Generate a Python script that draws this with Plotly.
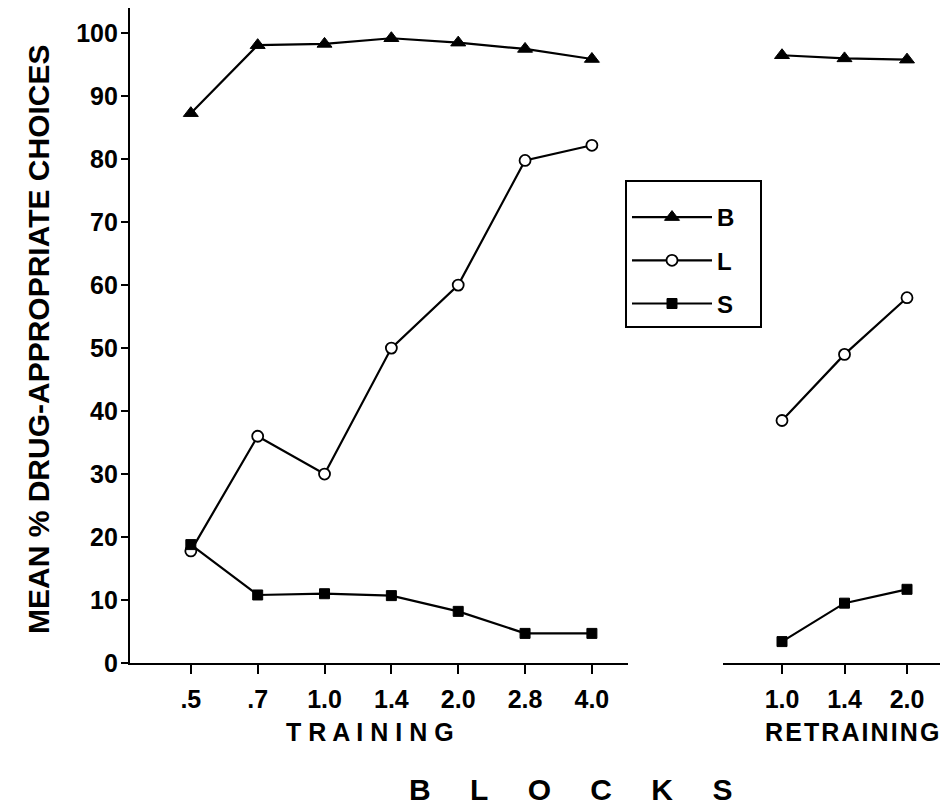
import plotly.graph_objects as go

# ---- data ----
train_blocks = [".5", ".7", "1.0", "1.4", "2.0", "2.8", "4.0"]
retrain_blocks = ["1.0", "1.4", "2.0"]

B_train = [87.3, 98.1, 98.3, 99.2, 98.5, 97.5, 95.9]
L_train = [17.8, 36.0, 30.0, 50.0, 60.0, 79.8, 82.2]
S_train = [18.8, 10.8, 11.0, 10.7, 8.2, 4.7, 4.7]

B_retrain = [96.5, 96.0, 95.8]
L_retrain = [38.5, 49.0, 58.0]
S_retrain = [3.4, 9.5, 11.7]

y_ticks = [0, 10, 20, 30, 40, 50, 60, 70, 80, 90, 100]

# page body has an 8px margin, so the figure is drawn 8px in and down
OFF = 8
W, H = 940, 801
FONT = "Liberation Sans"


def px(x):
    return (x - OFF) / W


def py(y):
    # screen y -> paper y (plot area spans screen 8..663)
    return (663 - y) / 655


series = [
    ("B", B_train, B_retrain, dict(symbol="triangle-up", size=13, color="black",
                                  line=dict(color="black", width=1))),
    ("L", L_train, L_retrain, dict(symbol="circle", size=11, color="white",
                                  line=dict(color="black", width=1.8))),
    ("S", S_train, S_retrain, dict(symbol="square", size=10, color="black",
                                  line=dict(color="black", width=1))),
]

fig = go.Figure()
for name, tr, rt, mk in series:
    fig.add_trace(go.Scatter(
        x=train_blocks, y=tr, mode="lines+markers",
        name=name + "\u00a0\u00a0\u00a0",
        legendgroup=name, line=dict(color="black", width=2.2), marker=mk,
        xaxis="x", yaxis="y"))
    fig.add_trace(go.Scatter(
        x=retrain_blocks, y=rt, mode="lines+markers", name=name,
        legendgroup=name, showlegend=False,
        line=dict(color="black", width=2.2), marker=mk,
        xaxis="x2", yaxis="y"))

tickfont = dict(family=FONT, size=25, color="black", weight="bold")

xcommon = dict(
    type="category", showline=True, linecolor="black", linewidth=2.2,
    ticks="outside", ticklen=9, tickwidth=2.2, tickcolor="black",
    showgrid=False, zeroline=False, tickfont=tickfont, anchor="y",
    ticklabelstandoff=4,
)

fig.update_layout(
    width=W, height=H,
    margin=dict(l=0, r=0, t=0, b=H - 655),
    paper_bgcolor="white", plot_bgcolor="white",
    font=dict(family=FONT, color="black"),
    xaxis=dict(domain=[px(130), px(628)], categoryorder="array",
               categoryarray=train_blocks, range=[-0.91, 6.54], **xcommon),
    xaxis2=dict(domain=[px(723), 1.0], categoryorder="array",
                categoryarray=retrain_blocks, range=[-0.944, 2.656], **xcommon),
    yaxis=dict(
        domain=[0, 1], range=[0, 104], tickvals=y_ticks,
        showline=True, linecolor="black", linewidth=2.2,
        ticks="outside", ticklen=7, tickwidth=2.2, tickcolor="black",
        showgrid=False, zeroline=False, tickfont=tickfont, anchor="x",
        ticklabelstandoff=-2,
    ),
    legend=dict(
        x=px(625), y=py(180), xanchor="left", yanchor="top",
        bordercolor="black", borderwidth=2, bgcolor="white",
        font=dict(family=FONT, size=24, color="black", weight="bold"),
        traceorder="grouped", tracegroupgap=9, itemwidth=80,
        title=dict(text="\u00a0", font=dict(size=10)),
    ),
    showlegend=True,
)

ann_font = dict(family=FONT, color="black", weight="bold")
fig.add_annotation(
    text="MEAN % DRUG-APPROPRIATE CHOICES", textangle=-90,
    x=px(38), y=py(340), xref="paper", yref="paper",
    xanchor="center", yanchor="middle",
    showarrow=False, font=dict(size=30, **ann_font))
fig.add_annotation(
    text="T R A I N I N G", x=px(370), y=py(732),
    xanchor="center", yanchor="middle",
    xref="paper", yref="paper", showarrow=False, font=dict(size=25, **ann_font))
fig.add_annotation(
    text="\u200a".join("RETRAINING"), x=px(763), y=py(732),
    xanchor="left", yanchor="middle",
    xref="paper", yref="paper", showarrow=False, font=dict(size=25, **ann_font))
fig.add_annotation(
    text="B\u00a0\u00a0\u00a0\u2009 L\u00a0\u00a0\u00a0\u2009 O\u00a0\u00a0\u00a0\u2009 C\u00a0\u00a0\u00a0\u2009 K\u00a0\u00a0\u00a0\u2009 S",
    x=px(570), y=py(789), xanchor="center", yanchor="middle",
    xref="paper", yref="paper", showarrow=False, font=dict(size=30, **ann_font))

fig.write_html("out.html")
